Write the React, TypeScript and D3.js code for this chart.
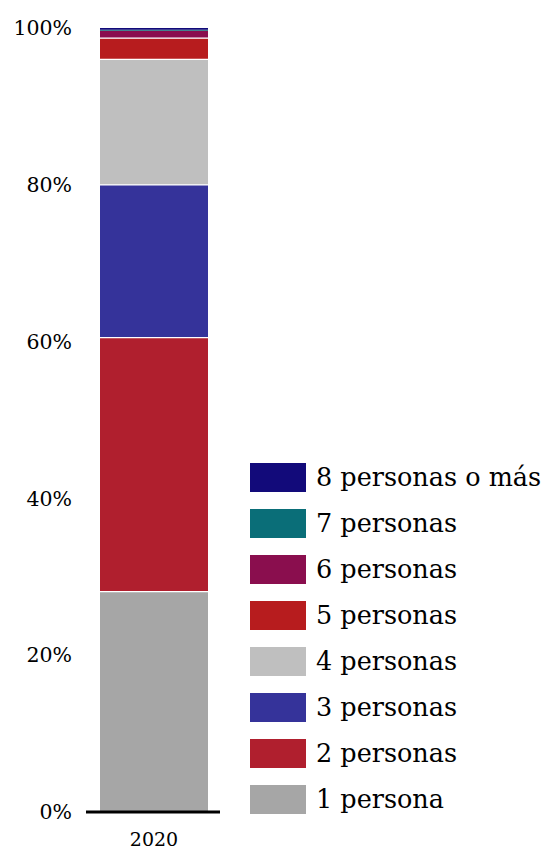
import React from "react";
import * as d3 from "d3";

const categories = ["2020"];
const seriesNames = [
  "1 persona",
  "2 personas",
  "3 personas",
  "4 personas",
  "5 personas",
  "6 personas",
  "7 personas",
  "8 personas o más",
];
const seriesValues = [28.1, 32.4, 19.5, 16.0, 2.7, 0.95, 0.13, 0.22];
const seriesColors = [
  "#a6a6a6",
  "#b01f2e",
  "#35339a",
  "#bfbfbf",
  "#b71c1e",
  "#8a0e4e",
  "#0a6e78",
  "#120a7a",
];
const yTicks = [0, 20, 40, 60, 80, 100];

const W = 547;
const H = 850;
const FONT = "'DejaVu Serif', serif";

export default function App() {
  const y = d3.scaleLinear().domain([0, 100]).range([812, 28]);
  const x = d3.scaleBand().domain(categories).range([100, 208]).padding(0);
  const row: Record<string, number> = {};
  seriesNames.forEach((s, i) => (row[s] = seriesValues[i]));
  const stack = d3.stack<any>().keys(seriesNames)([row]);
  const legendOrder = seriesNames.map((_, i) => i).reverse();
  const x0 = x.range()[0] - 14;
  const x1 = x.range()[1] + 12;
  return (
    <svg
      width={W}
      height={H}
      style={{ position: "absolute", left: 0, top: 0, background: "#fff" }}
      fontFamily={FONT}
    >
      {stack.map((layer, i) =>
        layer.map((d, j) => (
          <rect
            key={`${i}-${j}`}
            x={x(categories[j])!}
            width={x.bandwidth()}
            y={y(d[1])}
            height={y(d[0]) - y(d[1])}
            fill={seriesColors[i]}
          />
        ))
      )}
      {stack.slice(0, 5).map((layer, i) =>
        layer.map((d, j) => (
          <line
            key={`sep-${i}-${j}`}
            x1={x(categories[j])!}
            x2={x(categories[j])! + x.bandwidth()}
            y1={y(d[1])}
            y2={y(d[1])}
            stroke="#fff"
            strokeWidth={1.2}
          />
        ))
      )}
      <line x1={x0} x2={x1} y1={y(0)} y2={y(0)} stroke="#000" strokeWidth={3} />
      {yTicks.map((t) => (
        <text
          key={t}
          x={72}
          y={y(t)}
          dy="0.35em"
          textAnchor="end"
          fontSize={20.5}
          fill="#000"
        >
          {t}%
        </text>
      ))}
      {categories.map((c) => (
        <text
          key={c}
          x={x(c)! + x.bandwidth() / 2}
          y={839}
          dy="0.35em"
          textAnchor="middle"
          fontSize={19}
          fill="#000"
        >
          {c}
        </text>
      ))}
      {legendOrder.map((si, k) => {
        const ly = 463 + k * 46;
        return (
          <g key={si}>
            <rect x={250} y={ly} width={56} height={29} fill={seriesColors[si]} />
            <text x={316} y={ly + 14.5} dy="0.35em" fontSize={25.5} fill="#000">
              {seriesNames[si]}
            </text>
          </g>
        );
      })}
    </svg>
  );
}
